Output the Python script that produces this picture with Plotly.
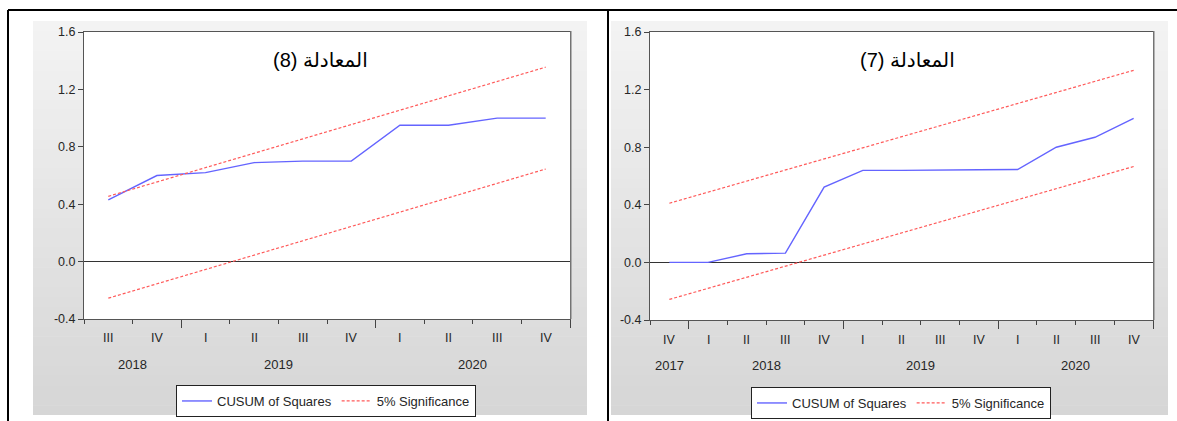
import plotly.graph_objects as go

W, H = 1177, 421

# ---------------- data: left chart (equation 8) ----------------
quarters_left = ["III", "IV", "I", "II", "III", "IV", "I", "II", "III", "IV"]
years_left = [2018, 2018, 2019, 2019, 2019, 2019, 2020, 2020, 2020, 2020]
cusum_left = [0.43, 0.60, 0.62, 0.69, 0.70, 0.70, 0.95, 0.95, 1.00, 1.00]
upper_left = [0.455, 0.555, 0.655, 0.755, 0.855, 0.955, 1.055, 1.155, 1.255, 1.355]
lower_left = [-0.255, -0.155, -0.055, 0.045, 0.145, 0.245, 0.345, 0.445, 0.545, 0.645]
title_left = "\u202bالمعادلة (8)\u202c"

# ---------------- data: right chart (equation 7) ----------------
quarters_right = ["IV", "I", "II", "III", "IV", "I", "II", "III", "IV", "I", "II", "III", "IV"]
years_right = [2017, 2018, 2018, 2018, 2018, 2019, 2019, 2019, 2019, 2020, 2020, 2020, 2020]
cusum_right = [0.0, 0.0, 0.06, 0.064, 0.523, 0.639, 0.639, 0.639, 0.643, 0.645, 0.80, 0.869, 1.0]
upper_right = [0.411, 0.488, 0.565, 0.642, 0.719, 0.796, 0.872, 0.949, 1.026, 1.103, 1.180, 1.257, 1.334]
lower_right = [-0.257, -0.180, -0.103, -0.026, 0.051, 0.128, 0.205, 0.281, 0.358, 0.435, 0.512, 0.589, 0.666]
title_right = "\u202bالمعادلة (7)\u202c"

y_tick_vals = [-0.4, 0.0, 0.4, 0.8, 1.2, 1.6]
y_tick_text = ["-0.4", "0.0", "0.4", "0.8", "1.2", "1.6"]

series_names = ["CUSUM of Squares", "5% Significance"]

BLUE = "#6464ff"
RED = "#ff5a5a"
FONT = "Liberation Sans, Arial, DejaVu Sans"
TXT = "#262626"


def px(x):
    return x / W


def py(y):
    return 1 - y / H


fig = go.Figure()

panels = [
    dict(q=quarters_left, yr=years_left, cs=cusum_left, up=upper_left, lo=lower_left,
         title=title_left, xa="x", ya="y", legend="legend",
         plot=(84, 570, 32, 319), gray=(33, 587, 21, 415), title_xy=(320, 60),
         qy=338, yy=364),
    dict(q=quarters_right, yr=years_right, cs=cusum_right, up=upper_right, lo=lower_right,
         title=title_right, xa="x2", ya="y2", legend="legend2",
         plot=(650, 1153, 32, 320), gray=(611, 1168, 21, 415), title_xy=(907, 60),
         qy=340, yy=365),
]

shapes = []
annotations = []

for i, p in enumerate(panels):
    n = len(p["q"])
    xs = list(range(n))
    fig.add_trace(go.Scatter(x=xs, y=p["cs"], mode="lines", name=series_names[0],
                             line=dict(color=BLUE, width=1.4), xaxis=p["xa"], yaxis=p["ya"],
                             legend=p["legend"], hoverinfo="skip"))
    fig.add_trace(go.Scatter(x=xs, y=p["up"], mode="lines", name=series_names[1],
                             line=dict(color=RED, width=1.2, dash="3px,2px"), xaxis=p["xa"],
                             yaxis=p["ya"], legend=p["legend"], hoverinfo="skip"))
    fig.add_trace(go.Scatter(x=xs, y=p["lo"], mode="lines", name=series_names[1],
                             line=dict(color=RED, width=1.2, dash="3px,2px"), xaxis=p["xa"],
                             yaxis=p["ya"], showlegend=False, legend=p["legend"], hoverinfo="skip"))

    # gray gradient background
    gx0, gx1, gy0, gy1 = p["gray"]
    nb = 40
    for b in range(nb):
        t = b / (nb - 1)
        c = int(round(243 - t * (243 - 214)))
        ya0 = gy0 + (gy1 - gy0) * b / nb
        ya1 = gy0 + (gy1 - gy0) * (b + 1) / nb + 0.6
        shapes.append(dict(type="rect", xref="paper", yref="paper", x0=px(gx0), x1=px(gx1),
                           y0=py(min(ya1, gy1)), y1=py(ya0), line=dict(width=0),
                           fillcolor=f"rgb({c},{c},{c})", layer="below"))
    x0, x1, y0, y1 = p["plot"]
    shapes.append(dict(type="rect", xref="paper", yref="paper", x0=px(x0), x1=px(x1),
                       y0=py(y1), y1=py(y0), line=dict(width=0), fillcolor="white",
                       layer="below"))
    # shadow on right side of frame
    shapes.append(dict(type="line", xref="paper", yref="paper", x0=px(x1 + 1), x1=px(x1 + 1),
                       y0=py(y1), y1=py(y0 - 1), line=dict(color="#888", width=1.2)))

    # boundaries
    bounds_all = [k - 0.5 for k in range(n + 1)]
    major = [k - 0.5 for k in range(1, n) if p["yr"][k] != p["yr"][k - 1]] + [n - 0.5]

    axname = "xaxis" if i == 0 else "xaxis2"
    yname = "yaxis" if i == 0 else "yaxis2"
    fig.layout[axname] = dict(
        domain=[px(x0), px(x1)], range=[-0.5, n - 0.5], anchor=p["ya"],
        showline=True, mirror=True, linecolor="#555", linewidth=1,
        ticks="outside", tickmode="array", tickvals=major, ticklen=8, tickwidth=1,
        tickcolor="#444", showticklabels=False, showgrid=False, zeroline=False,
        minor=dict(tickmode="array", tickvals=bounds_all, ticks="outside", ticklen=4,
                   tickwidth=1, tickcolor="#444", showgrid=False),
        fixedrange=True,
    )
    fig.layout[yname] = dict(
        domain=[py(y1), py(y0)], range=[-0.4, 1.6], anchor=p["xa"],
        showline=True, mirror=True, linecolor="#555", linewidth=1,
        ticks="outside", ticklen=5, tickcolor="#444", tickmode="array",
        tickvals=y_tick_vals, ticktext=y_tick_text,
        tickfont=dict(family=FONT, size=12.5, color=TXT),
        showgrid=False, zeroline=True, zerolinecolor="#333", zerolinewidth=1,
        fixedrange=True,
    )

    # quarter labels
    for k, q in enumerate(p["q"]):
        annotations.append(dict(x=k, y=py(p["qy"]), xref=p["xa"], yref="paper", text=q,
                                showarrow=False, font=dict(family=FONT, size=12.5, color=TXT),
                                xanchor="center", yanchor="middle"))
    # year labels (centred on the year's span of quarters)
    yrs = []
    for y in p["yr"]:
        if y not in yrs:
            yrs.append(y)
    for y in yrs:
        idx = [k for k, v in enumerate(p["yr"]) if v == y]
        xc = (min(idx) + max(idx)) / 2
        annotations.append(dict(x=xc, y=py(p["yy"]), xref=p["xa"], yref="paper", text=str(y),
                                showarrow=False, font=dict(family=FONT, size=13, color=TXT),
                                xanchor="center", yanchor="middle"))
    # title
    tx, ty = p["title_xy"]
    annotations.append(dict(x=px(tx), y=py(ty), xref="paper", yref="paper", text=p["title"],
                            showarrow=False, font=dict(family=FONT, size=20, color="black"),
                            xanchor="center", yanchor="middle"))

# page frame lines
for ln in [(8, 10, 1177, 10), (8, 10, 8, 421), (608, 10, 608, 421)]:
    shapes.append(dict(type="line", xref="paper", yref="paper", x0=px(ln[0]), y0=py(ln[1]),
                       x1=px(ln[2]), y1=py(ln[3]), line=dict(color="black", width=2)))

legend_common = dict(orientation="h", bgcolor="white", bordercolor="#222", borderwidth=1,
                     font=dict(family=FONT, size=13, color=TXT), xanchor="center",
                     yanchor="top", itemwidth=30, tracegroupgap=0, itemclick=False,
                     itemdoubleclick=False)

fig.update_layout(
    width=W, height=H, margin=dict(l=0, r=0, t=0, b=0, autoexpand=False),
    paper_bgcolor="white", plot_bgcolor="white",
    shapes=shapes, annotations=annotations,
    legend=dict(x=px(326), y=py(385), **legend_common),
    legend2=dict(x=px(901), y=py(387), **legend_common),
    hovermode=False,
)

fig.write_html(
    "out.html",
    config={"displayModeBar": False},
    post_script="document.documentElement.style.margin='0';document.body.style.margin='0';"
                "document.body.style.padding='0';document.body.style.overflow='hidden';",
)
